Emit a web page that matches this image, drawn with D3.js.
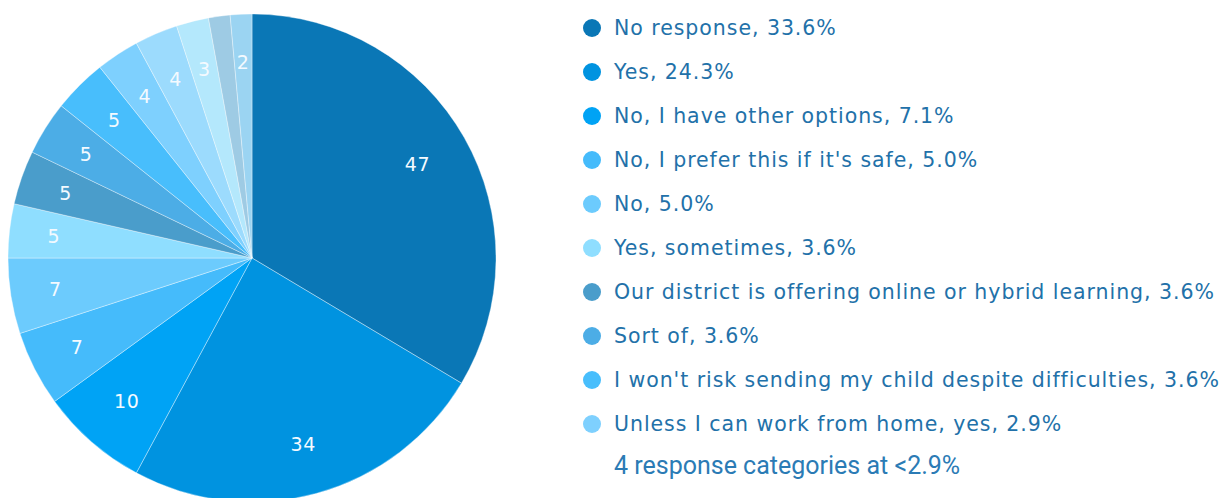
<!DOCTYPE html>
<html>
<head>
<meta charset="utf-8">
<script src="https://cdn.jsdelivr.net/npm/d3@7"></script>
<style>
  body { margin: 0; background: #fff; }
  svg { display: block; }
  .slice-label { font-family: Verdana, "DejaVu Sans", sans-serif; font-size: 19px; letter-spacing: 0.8px; fill: #f4faff; }
  .legend-text { font-family: Verdana, "DejaVu Sans", sans-serif; font-size: 20.5px; letter-spacing: 0.95px; fill: #2271a9; }
  .legend-note { font-family: Roboto, sans-serif; font-size: 25px; fill: #2b7bb5; }
</style>
</head>
<body>
<div id="chart"></div>
<script>
// answers, in the order they go round the pie (clockwise from 12 o'clock)
var categories = [
  "No response", "Yes", "No, I have other options", "No, I prefer this if it's safe",
  "No", "Yes, sometimes", "Our district is offering online or hybrid learning",
  "Sort of", "I won't risk sending my child despite difficulties",
  "Unless I can work from home, yes",
  "Other 1", "Other 2", "Other 3", "Other 4"
];
var counts = [47, 34, 10, 7, 7, 5, 5, 5, 5, 4, 4, 3, 2, 2];
var colors = [
  "#0a77b6", "#0093e0", "#00a3f5", "#45bbfb", "#6ccbfd", "#8fdeff", "#4a9dcb",
  "#4cade6", "#48befc", "#7ed0fe", "#9cdbfd", "#b4e8fc", "#9ecbe4", "#9bd4f2"
];
var legendCount = 10;           // first 10 answers get a legend row
var hiddenLabels = [12];        // slice with no number on it
var noteText = "4 response categories at <2.9%";

var width = 1227, height = 498;
var cx = 252, cy = 258, radius = 244;

var svg = d3.select("#chart").append("svg")
    .attr("width", width)
    .attr("height", height);

var total = d3.sum(counts);
var data = counts.map(function(d, i) {
  return { name: categories[i], value: d, color: colors[i], idx: i };
});

var pie = d3.pie()
    .sort(null)
    .value(function(d) { return d.value; });

var arc = d3.arc()
    .innerRadius(0)
    .outerRadius(radius);

var g = svg.append("g")
    .attr("transform", "translate(" + cx + "," + cy + ")");

var arcs = pie(data);

g.selectAll("path")
  .data(arcs)
  .enter().append("path")
    .attr("d", arc)
    .attr("fill", function(d) { return d.data.color; })
    .attr("stroke", "rgba(255,255,255,0.45)")
    .attr("stroke-width", 0.8);

// numbers inside slices, pushed out so the text box sits ~37px inside the rim
var labels = g.selectAll("text.slice-label")
  .data(arcs.filter(function(d) { return hiddenLabels.indexOf(d.data.idx) < 0; }))
  .enter().append("text")
    .attr("class", "slice-label")
    .attr("text-anchor", "middle")
    .attr("dy", "0.36em")
    .text(function(d) { return d.data.value; });

labels.each(function(d) {
  var bb = this.getBBox();
  var a = (d.startAngle + d.endAngle) / 2;
  var s = Math.sin(a), c = Math.cos(a);
  var r = radius - 37 - (Math.abs(s) * bb.width / 2 + Math.abs(c) * bb.height / 2);
  d3.select(this).attr("x", s * r).attr("y", -c * r);
});

// legend
var fmt = d3.format(".1f");
var legendY = d3.scaleLinear().domain([0, 1]).range([28, 72]);

var legend = svg.append("g");
var rows = legend.selectAll("g.row")
  .data(data.slice(0, legendCount))
  .enter().append("g")
    .attr("class", "row")
    .attr("transform", function(d, i) { return "translate(592," + legendY(i) + ")"; });

rows.append("circle")
    .attr("r", 9)
    .attr("fill", function(d) { return d.color; });

rows.append("text")
    .attr("class", "legend-text")
    .attr("x", 22)
    .attr("dy", "0.36em")
    .text(function(d) { return d.name + ", " + fmt(d.value / total * 100) + "%"; });

legend.append("text")
    .attr("class", "legend-note")
    .attr("x", 614)
    .attr("y", legendY(legendCount) - 3)
    .attr("dy", "0.36em")
    .text(noteText);
</script>
</body>
</html>
